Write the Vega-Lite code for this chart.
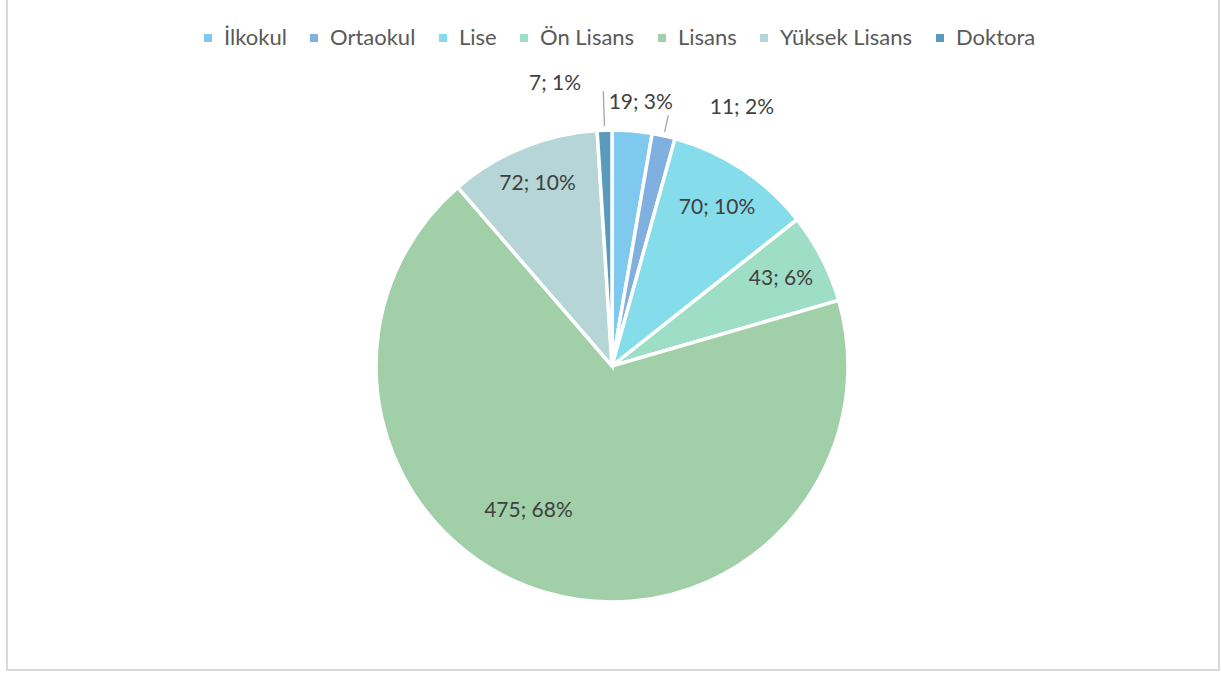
{
  "$schema": "https://vega.github.io/schema/vega-lite/v6.json",
  "autosize": {"type": "none"},
  "padding": {"left": 7, "top": -5, "right": 2, "bottom": 3},
  "width": 1212,
  "height": 675,
  "config": {
    "view": {"stroke": null},
    "font": "Lato"
  },
  "layer": [
    {
      "data": {"values": [{}]},
      "mark": {"type": "rect", "filled": false, "stroke": "#d9d9d9", "strokeWidth": 2},
      "encoding": {}
    },
    {
      "data": {
        "values": [
          {"idx": 1, "egitim": "İlkokul", "sayi": 19},
          {"idx": 2, "egitim": "Ortaokul", "sayi": 11},
          {"idx": 3, "egitim": "Lise", "sayi": 70},
          {"idx": 4, "egitim": "Ön Lisans", "sayi": 43},
          {"idx": 5, "egitim": "Lisans", "sayi": 475},
          {"idx": 6, "egitim": "Yüksek Lisans", "sayi": 72},
          {"idx": 7, "egitim": "Doktora", "sayi": 7}
        ]
      },
      "transform": [
        {"joinaggregate": [{"op": "sum", "field": "sayi", "as": "toplam"}]},
        {"calculate": "datum.sayi + '; ' + format(datum.sayi / datum.toplam, '.0%')", "as": "etiket"}
      ],
      "encoding": {
        "theta": {"field": "sayi", "type": "quantitative", "stack": true},
        "order": {"field": "idx", "type": "quantitative"}
      },
      "layer": [
        {
          "mark": {"type": "arc", "outerRadius": 236, "stroke": "white", "strokeWidth": 3.5, "xOffset": -1, "yOffset": 33.5},
          "encoding": {
            "color": {
              "field": "egitim",
              "type": "nominal",
              "sort": ["İlkokul", "Ortaokul", "Lise", "Ön Lisans", "Lisans", "Yüksek Lisans", "Doktora"],
              "scale": {
                "domain": ["İlkokul", "Ortaokul", "Lise", "Ön Lisans", "Lisans", "Yüksek Lisans", "Doktora"],
                "range": ["#80c9ee", "#7fb0df", "#85dcea", "#9fdec6", "#a0cfa8", "#b5d5d6", "#5a9bbc"]
              },
              "legend": {
                "title": null,
                "orient": "none",
                "direction": "horizontal",
                "legendX": 190,
                "legendY": 32,
                "symbolType": "square",
                "symbolSize": 64,
                "symbolStrokeWidth": 0,
                "labelFontSize": 22,
                "labelColor": "#595959",
                "labelFont": "Lato",
                "labelOffset": 5,
                "columnPadding": 16,
                "labelLimit": 300
              }
            }
          }
        },
        {
          "mark": {"type": "arc", "radius": 275, "radius2": 240, "padAngle": 0.12, "fillOpacity": 0, "stroke": "#a6a6a6", "strokeWidth": 1.3, "xOffset": -1, "yOffset": 33.5},
          "encoding": {
            "strokeOpacity": {"condition": {"test": "datum.egitim == 'Doktora'", "value": 1}, "value": 0}
          }
        },
        {
          "mark": {"type": "arc", "radius": 257, "radius2": 240, "padAngle": 0.14, "fillOpacity": 0, "stroke": "#a6a6a6", "strokeWidth": 1.3, "xOffset": -1, "yOffset": 33.5},
          "encoding": {
            "strokeOpacity": {"condition": {"test": "datum.egitim == 'Ortaokul'", "value": 1}, "value": 0}
          }
        },
        {
          "mark": {"type": "text", "radius": 190, "fontSize": 21, "color": "#404040", "xOffset": -1, "yOffset": 33.5},
          "encoding": {
            "text": {"condition": {"test": "datum.egitim == 'Lise' || datum.egitim == 'Ön Lisans'", "field": "etiket"}, "value": ""}
          }
        },
        {
          "mark": {"type": "text", "radius": 197, "fontSize": 21, "color": "#404040", "xOffset": -1, "yOffset": 33.5},
          "encoding": {
            "text": {"condition": {"test": "datum.egitim == 'Yüksek Lisans'", "field": "etiket"}, "value": ""}
          }
        },
        {
          "mark": {"type": "text", "radius": 167, "fontSize": 21, "color": "#404040", "xOffset": -37, "yOffset": 18.5},
          "encoding": {
            "text": {"condition": {"test": "datum.egitim == 'Lisans'", "field": "etiket"}, "value": ""}
          }
        },
        {
          "mark": {"type": "text", "radius": 266, "fontSize": 21, "color": "#404040", "xOffset": 5, "yOffset": 35.5},
          "encoding": {
            "text": {"condition": {"test": "datum.egitim == 'İlkokul'", "field": "etiket"}, "value": ""}
          }
        },
        {
          "mark": {"type": "text", "radius": 287, "fontSize": 21, "color": "#404040", "xOffset": 66, "yOffset": 55.5},
          "encoding": {
            "text": {"condition": {"test": "datum.egitim == 'Ortaokul'", "field": "etiket"}, "value": ""}
          }
        },
        {
          "mark": {"type": "text", "radius": 286, "fontSize": 21, "color": "#404040", "xOffset": -49, "yOffset": 37.5},
          "encoding": {
            "text": {"condition": {"test": "datum.egitim == 'Doktora'", "field": "etiket"}, "value": ""}
          }
        }
      ]
    }
  ]
}
